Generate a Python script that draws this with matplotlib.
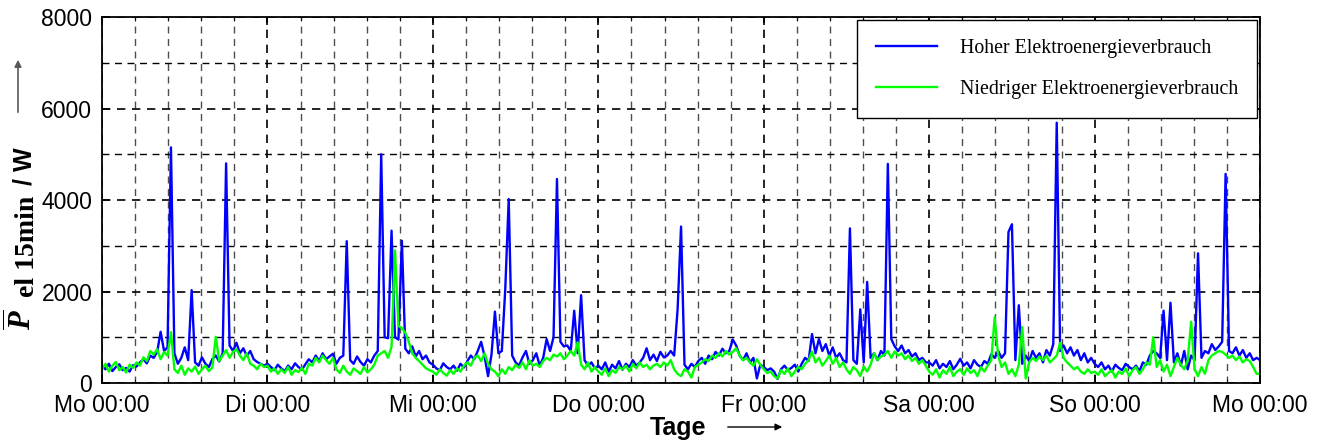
import matplotlib.pyplot as plt
import numpy as np
from matplotlib.ticker import MultipleLocator

plt.rcParams['font.family'] = 'Liberation Sans'
plt.rcParams['mathtext.fontset'] = 'custom'
plt.rcParams['mathtext.rm'] = 'Liberation Serif:bold'
plt.rcParams['mathtext.it'] = 'Liberation Serif:italic:bold'
plt.rcParams['mathtext.bf'] = 'Liberation Serif:bold'

# Wochentage (Achsbeschriftung)
tage = ['Mo 00:00', 'Di 00:00', 'Mi 00:00', 'Do 00:00', 'Fr 00:00', 'Sa 00:00', 'So 00:00', 'Mo 00:00']

# mittlere Leistung in W, Werte je 30 min (48 pro Tag)
# Hoher Elektroenergieverbrauch
hoch_mo = [380, 300, 420, 260, 350, 410, 280, 330, 250, 390, 360, 450, 520, 430, 600, 550, 680,
           1120, 700, 780, 5150, 650, 420, 550, 780, 500, 2030, 450, 380, 560, 420, 350, 520, 600, 470,
           650, 4800, 820, 700, 880, 650, 760, 590, 700, 520, 460, 420, 380]
hoch_di = [420, 350, 280, 400, 320, 260, 380, 300, 430, 350, 290, 410, 520, 450, 600, 480, 650, 520, 580, 640,
           420, 550, 600, 3100, 500, 420, 580, 460, 380, 520, 450, 600, 700, 5000, 1000, 980, 3330,
           1000, 950, 3110, 750, 650, 800, 580, 700, 520, 600, 450]
hoch_mi = [400, 320, 280, 430, 350, 300, 380, 270, 420, 340, 480, 600, 520, 700, 900, 580, 150, 620,
           1560, 650, 700, 2060, 4020, 600, 450, 380, 560, 700, 420, 500, 650, 380, 550, 960, 700, 1000,
           4460, 900, 800, 820, 700, 1580, 650, 1920, 500, 380, 450, 320]
hoch_do = [380, 300, 450, 250, 400, 320, 480, 290, 420, 350, 500, 380, 450, 550, 760, 500, 620, 480, 680,
           560, 600, 700, 600, 1610, 3420, 400, 300, 420, 350, 480, 550, 420, 600, 520, 680, 600, 750, 650,
           700, 950, 820, 600, 500, 650, 450, 550, 100, 400]
hoch_fr = [350, 280, 320, 250, 90, 300, 380, 280, 330, 400, 250, 420, 550, 480, 1070, 650, 960, 700, 850,
           600, 780, 550, 650, 500, 450, 3380, 500, 420, 1610, 450, 2210, 550, 650, 500, 700, 600, 4790,
           960, 800, 700, 820, 650, 720, 580, 650, 500, 550, 450]
hoch_sa = [450, 380, 500, 320, 420, 350, 480, 300, 400, 530, 380, 450, 320, 500, 400, 350, 480, 420, 630,
           550, 700, 550, 650, 3300, 3470, 500, 1700, 420, 600, 480, 700, 550, 650, 450, 720, 600, 850,
           5690, 700, 820, 650, 780, 600, 720, 500, 650, 450, 550]
hoch_so = [420, 350, 450, 300, 380, 250, 400, 330, 280, 420, 350, 300, 380, 260, 450, 400, 600, 700, 650,
           550, 1580, 500, 1755, 450, 650, 380, 700, 300, 600, 500, 2835, 550, 700, 650, 850, 720, 800,
           900, 4570, 700, 650, 780, 600, 720, 550, 650, 500, 550]

# Niedriger Elektroenergieverbrauch
nied_mo = [300, 420, 250, 380, 460, 280, 350, 230, 400, 330, 450, 380, 560, 480, 700, 620, 740, 520, 680,
           600, 1110, 300, 220, 380, 180, 320, 250, 360, 200, 300, 380, 260, 340, 1010, 480, 600, 720,
           550, 680, 740, 600, 500, 650, 420, 380, 300, 420, 350]
nied_di = [380, 250, 320, 200, 300, 220, 350, 180, 280, 240, 330, 200, 420, 380, 550, 450, 600, 500, 420,
           550, 300, 220, 380, 250, 180, 320, 260, 200, 350, 230, 300, 400, 600, 650, 700, 550, 800,
           2900, 1250, 1200, 1100, 900, 650, 550, 480, 400, 320, 280]
nied_mi = [250, 180, 300, 220, 160, 280, 200, 320, 250, 380, 450, 380, 550, 600, 480, 650, 420, 300, 250,
           150, 300, 200, 350, 280, 400, 330, 450, 300, 500, 380, 420, 350, 480, 550, 500, 620, 580, 650,
           520, 600, 700, 600, 890, 400, 300, 450, 250, 350]
nied_do = [250, 180, 320, 150, 280, 220, 350, 300, 380, 250, 420, 320, 450, 350, 400, 300, 380, 420, 350,
           450, 380, 500, 300, 200, 150, 300, 250, 120, 350, 400, 450, 520, 480, 600, 550, 650, 580, 700,
           620, 680, 760, 600, 500, 550, 450, 380, 520, 400]
nied_fr = [300, 220, 250, 150, 100, 280, 200, 320, 150, 250, 350, 300, 420, 500, 690, 450, 550, 380, 480,
           600, 420, 550, 350, 450, 300, 200, 350, 280, 150, 360, 250, 400, 650, 500, 580, 620, 700, 550,
           690, 600, 650, 520, 600, 480, 550, 420, 500, 380]
nied_sa = [250, 180, 300, 120, 280, 200, 350, 150, 250, 300, 180, 320, 220, 280, 150, 350, 250, 380, 500,
           1440, 600, 350, 450, 200, 300, 150, 400, 1220, 100, 450, 550, 480, 580, 500, 600, 450, 520, 600,
           880, 550, 450, 380, 300, 350, 250, 200, 300, 220]
nied_so = [250, 180, 300, 150, 220, 280, 120, 250, 200, 320, 150, 280, 350, 200, 300, 450, 400, 1000, 350,
           500, 250, 400, 150, 350, 550, 400, 300, 500, 1340, 300, 150, 350, 200, 500, 600, 650, 700, 680,
           620, 550, 600, 500, 580, 450, 520, 480, 350, 200]

hoch = np.array(hoch_mo + hoch_di + hoch_mi + hoch_do + hoch_fr + hoch_sa + hoch_so + [500])
nied = np.array(nied_mo + nied_di + nied_mi + nied_do + nied_fr + nied_sa + nied_so + [200])
t = np.arange(len(hoch)) * 0.5  # Stunden

fig = plt.figure(figsize=(13.25, 4.43), dpi=100)
ax = fig.add_axes([0.077, 0.1354, 0.874, 0.8262])

ax.plot(t, hoch, color='#0000ff', lw=1.7, label='Hoher Elektroenergieverbrauch')
ax.plot(t, nied, color='#00ff00', lw=1.7, label='Niedriger Elektroenergieverbrauch')

ax.set_xlim(0, 168)
ax.set_ylim(0, 8000)
ax.set_xticks(np.arange(0, 169, 24))
ax.set_xticklabels(tage)
ax.xaxis.set_minor_locator(MultipleLocator(4.8))
ax.yaxis.set_major_locator(MultipleLocator(2000))
ax.yaxis.set_minor_locator(MultipleLocator(1000))

ax.grid(which='major', color='k', ls=(0, (5, 4)), lw=1.2)
ax.yaxis.grid(which='minor', color='k', ls=(0, (5, 4)), lw=1.0)
ax.xaxis.grid(which='minor', color='0.3', ls=(0, (5, 4)), lw=1.0)

ax.tick_params(which='both', direction='in', top=True, right=True, labelsize=16.5)
ax.tick_params(which='major', length=6, width=1.2)
ax.tick_params(which='minor', length=3)
ax.tick_params(axis='x', pad=8)
ax.tick_params(axis='y', pad=7)
for s in ax.spines.values():
    s.set_linewidth(1.3)

ax.legend(loc='upper right', prop={'family': 'Liberation Serif', 'size': 14.3},
          fancybox=False, edgecolor='k', framealpha=1, borderaxespad=0.15,
          handlelength=3.1, handletextpad=1.15, labelspacing=1.1, borderpad=0.95)

# y-Achsenbeschriftung aus drei Teilen (gedreht)
ykw = dict(rotation=90, rotation_mode='anchor', ha='center', va='baseline')
fig.text(32 / 1325, 1 - 320 / 443, r'$\overline{P}$', fontsize=22, **ykw)
fig.text(34 / 1325, 1 - 246 / 443, 'el 15min', family='Liberation Serif', fontsize=20,
         fontweight='bold', **ykw)
fig.text(32 / 1325, 1 - 166 / 443, '/ W', fontsize=18, fontweight='bold', **ykw)

fig.text(678 / 1325, 1 - 428 / 443, 'Tage', ha='center', va='center', fontsize=18, fontweight='bold')

ax.annotate('', xy=(18, 386), xytext=(18, 328), xycoords='figure pixels', textcoords='figure pixels',
            arrowprops=dict(arrowstyle='-|>', color='0.35', lw=1.2, mutation_scale=10),
            annotation_clip=False)
ax.annotate('', xy=(785, 16), xytext=(725, 16), xycoords='figure pixels', textcoords='figure pixels',
            arrowprops=dict(arrowstyle='-|>', color='k', lw=1.0, mutation_scale=10),
            annotation_clip=False)

fig.savefig('out.png', dpi=100)
